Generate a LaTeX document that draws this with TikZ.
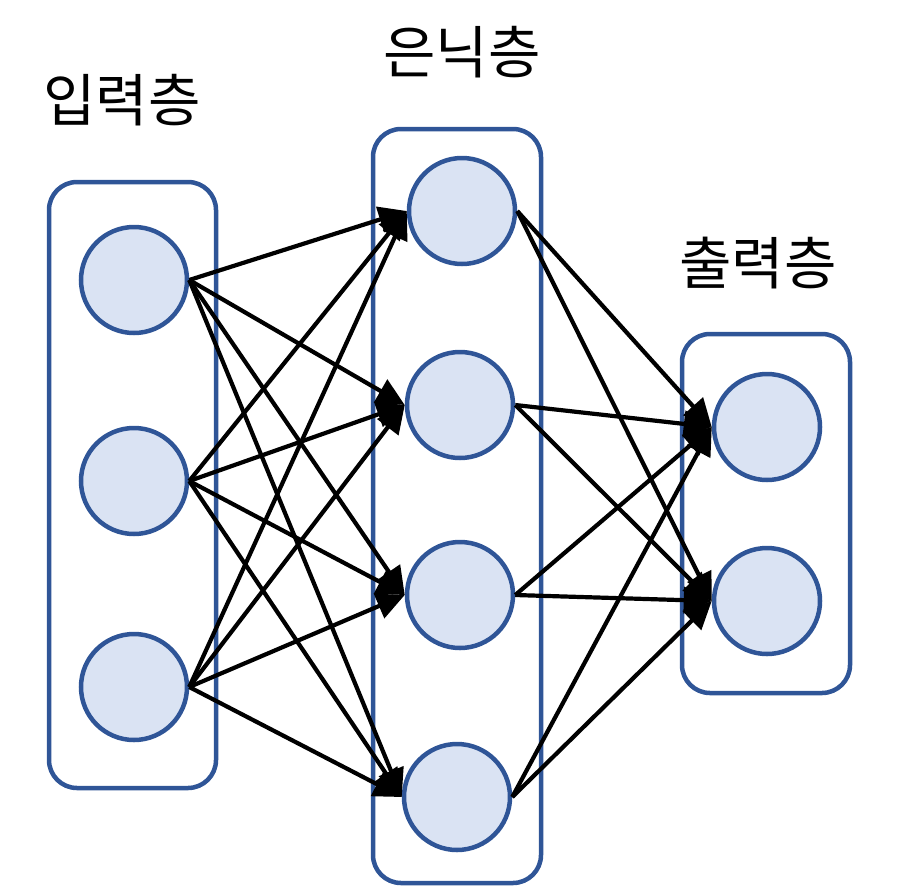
\documentclass[tikz,border=0pt]{standalone}
\usepackage{fontspec}
\newfontfamily\kr{Noto Sans CJK KR}
\usetikzlibrary{arrows.meta}
\definecolor{edgeblue}{RGB}{47,85,151}
\definecolor{fillblue}{RGB}{218,227,243}
\begin{document}
\begin{tikzpicture}[x=1pt,y=-1pt,
  neuron/.style={circle,draw=edgeblue,fill=fillblue,line width=4.5pt,minimum size=106pt,inner sep=0pt},
  layerbox/.style={draw=edgeblue,line width=4.5pt,rounded corners=28pt},
  conn/.style={line width=4.2pt,-{Triangle[length=28pt,width=26pt]}},
  lbl/.style={font=\kr\fontsize{57}{64}\selectfont}]
\useasboundingbox (0,0) rectangle (912,889);
\draw[layerbox] (49,182) rectangle (216,788);
\draw[layerbox] (373,129) rectangle (541,883);
\draw[layerbox] (682,334) rectangle (850,693);
\node[lbl] (t1) at (122,100) {입력층};
\node[lbl] (t2) at (462,52) {은닉층};
\node[lbl] (t3) at (758,263) {출력층};
\node[neuron] (i1) at (134,280) {};
\node[neuron] (i2) at (134,481) {};
\node[neuron] (i3) at (134,687) {};
\node[neuron] (h1) at (462,211) {};
\node[neuron] (h2) at (460,405) {};
\node[neuron] (h3) at (460,595) {};
\node[neuron] (h4) at (457,797) {};
\node[neuron] (o1) at (767,427) {};
\node[neuron] (o2) at (767,601) {};
\foreach \s in {i1,i2,i3}{
  \foreach \t in {h1,h2,h3,h4}{
    \draw[conn] (\s.east) -- (\t.west);
  }
}
\foreach \s in {h1,h2,h3,h4}{
  \foreach \t in {o1,o2}{
    \draw[conn] (\s.east) -- (\t.west);
  }
}
\end{tikzpicture}
\end{document}
